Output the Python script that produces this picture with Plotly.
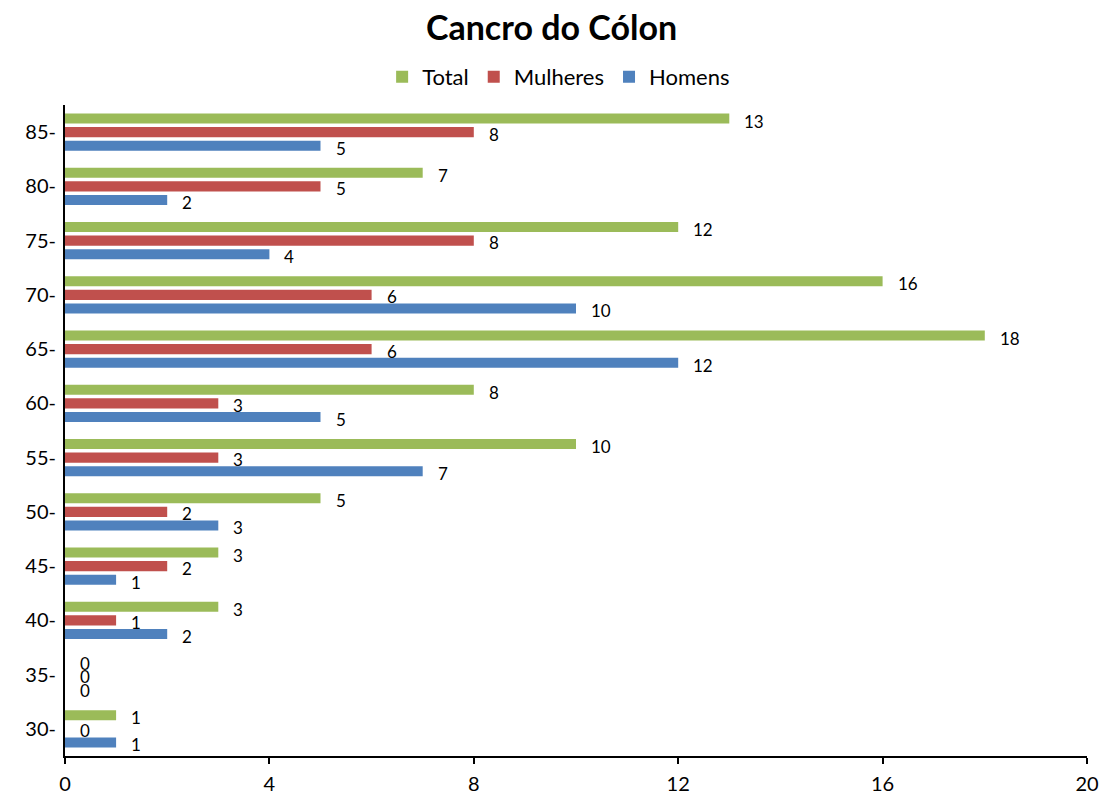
import plotly.graph_objects as go

categories = ["30-", "35-", "40-", "45-", "50-", "55-", "60-", "65-", "70-", "75-", "80-", "85-"]
homens = [1, 0, 2, 1, 3, 7, 5, 12, 10, 4, 2, 5]
mulheres = [0, 0, 1, 2, 2, 3, 3, 6, 6, 8, 5, 8]
total = [1, 0, 3, 3, 5, 10, 8, 18, 16, 12, 7, 13]

colors = {"Homens": "#4F81BD", "Mulheres": "#C0504D", "Total": "#9BBB59"}
series = [("Homens", homens), ("Mulheres", mulheres), ("Total", total)]

FONT = "Lato, 'Open Sans', sans-serif"

fig = go.Figure()
for name, vals in series:
    fig.add_trace(go.Bar(
        name=name, y=categories, x=vals, orientation="h",
        marker=dict(color=colors[name], line=dict(width=0)),
    ))

shifts = {"Homens": -16, "Mulheres": -2, "Total": 11}
annotations = []
for name, vals in series:
    for c, v in zip(categories, vals):
        annotations.append(dict(
            x=v, y=c, xref="x", yref="y", text=str(v), showarrow=False,
            xanchor="left", yanchor="middle", xshift=13, yshift=shifts[name],
            font=dict(family=FONT, size=17, color="#000000"),
        ))

fig.update_layout(
    width=1103, height=798,
    paper_bgcolor="white", plot_bgcolor="white",
    margin=dict(l=65, r=16, t=105, b=42),
    barmode="group", bargap=0.25, bargroupgap=0.26,
    title=dict(text="<b>Cancro do Cólon</b>", x=0.5, xanchor="center", y=1 - 28/798, yanchor="middle",
               font=dict(family=FONT, size=34, color="#000000")),
    legend=dict(orientation="h", x=0.483, xanchor="center", y=1.0 + 28/651, yanchor="middle",
                traceorder="reversed", font=dict(family=FONT, size=22, color="#000000"),
                itemwidth=30, bgcolor="rgba(0,0,0,0)"),
    annotations=annotations,
    showlegend=True,
)
fig.update_xaxes(range=[0, 20], tickvals=[0, 4, 8, 12, 16, 20], showgrid=False, zeroline=False,
                 showline=True, linecolor="#000000", linewidth=2, ticks="outside", ticklen=6,
                 tickcolor="#000000", tickwidth=1.5, automargin=False, ticklabelstandoff=3,
                 tickfont=dict(family=FONT, size=20, color="#000000"))
fig.update_yaxes(range=[-0.5, 11.5], showgrid=False, zeroline=False, showline=True,
                 linecolor="#000000", linewidth=2, ticks="", ticklabelstandoff=3, automargin=False,
                 tickfont=dict(family=FONT, size=20, color="#000000"))

fig.write_html("out.html", config={"displayModeBar": False},
               post_script="document.body.style.margin='0';")
